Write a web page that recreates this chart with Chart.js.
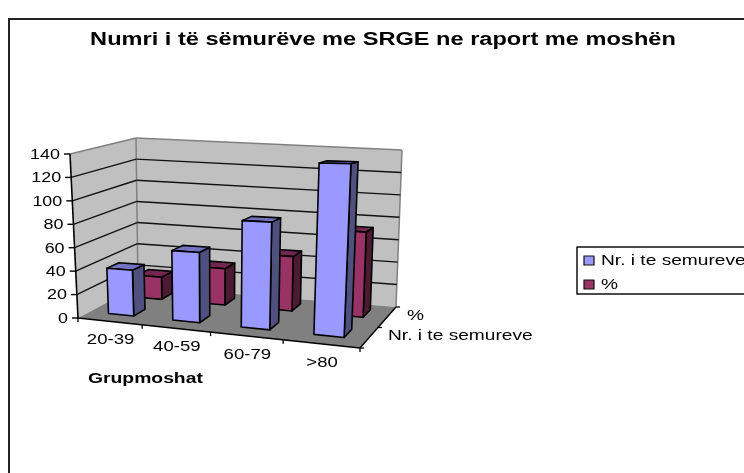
<!DOCTYPE html>
<html><head><meta charset="utf-8">
<style>html,body{margin:0;padding:0;background:#fff;overflow:hidden}canvas{display:block;filter:blur(0.35px)}</style>
<script src="https://cdn.jsdelivr.net/npm/chart.js@4"></script>
</head><body><canvas id="c" width="744" height="473"></canvas>
<script>
const categories = ['20-39','40-59','60-79','>80'];
const seriesNames = ['Nr. i te semureve','%'];
const patientCounts = [39,58,86,134];
const percentValues = [20,32,47,72];
const valueTicks = [0,20,40,60,80,100,120,140];
const chartTitle = 'Numri i të sëmurëve me SRGE ne raport me moshën';
const axisTitle = 'Grupmoshat';

// projection of the (category, value, depth) box on to the page
const box = {
  floorFL:[78,318], floorFR:[360,348], floorBL:[138,286], floorBR:[396,307],
  topFL:[70,154],  topFR:[369,158],  topBL:[136,138],  topBR:[402,150], warp:-0.12
};
const lanes = [[0.2,0.4],[0.7,0.89]];
const colors = [
  {front:'#9999FF',side:'#50507F',top:'#7373BF'},
  {front:'#993366',side:'#4D1A33',top:'#732650'}
];
const STRETCH = 1.28;
const FONT = '"Liberation Sans", Arial, sans-serif';

const lerp=(a,b,t)=>[a[0]+(b[0]-a[0])*t,a[1]+(b[1]-a[1])*t];
function project(u,v,d){
  const w=u+box.warp*u*(1-u);
  const fb=lerp(lerp(box.floorFL,box.floorFR,w),lerp(box.floorBL,box.floorBR,w),d);
  const ft=lerp(lerp(box.topFL,box.topFR,w),lerp(box.topBL,box.topBR,w),d);
  return lerp(fb,ft,v);
}
function poly(ctx,pts,fill,stroke,lw){
  ctx.beginPath();pts.forEach((p,i)=>i?ctx.lineTo(p[0],p[1]):ctx.moveTo(p[0],p[1]));ctx.closePath();
  if(fill){ctx.fillStyle=fill;ctx.fill();}
  if(stroke){ctx.strokeStyle=stroke;ctx.lineWidth=lw||1;ctx.stroke();}
}
function line(ctx,a,b,color,lw){
  ctx.beginPath();ctx.moveTo(a[0],a[1]);ctx.lineTo(b[0],b[1]);ctx.strokeStyle=color;ctx.lineWidth=lw||1;ctx.stroke();
}
function text(ctx,str,x,y,align,font,sx){
  const s=sx||STRETCH;
  ctx.save();ctx.font=font;ctx.fillStyle='#000';ctx.textBaseline='middle';ctx.textAlign=align;
  ctx.translate(x,y);ctx.scale(s,1);ctx.fillText(str,0,0);ctx.restore();
}

const scene={
  id:'scene',
  beforeDatasetsDraw(chart){
    const ctx=chart.ctx,{x:xs,y:ys}=chart.scales,a=chart.chartArea;
    ctx.save();ctx.lineJoin='round';
    // outer frame
    line(ctx,[9,19],[744,19],'#222',2);line(ctx,[9,18],[9,473],'#222',2);
    // walls and floor
    poly(ctx,[project(0,0,0),project(0,1,0),project(0,1,1),project(0,0,1)],'#C0C0C0');
    poly(ctx,[project(0,0,1),project(0,1,1),project(1,1,1),project(1,0,1)],'#C0C0C0');
    poly(ctx,[project(0,0,0),project(1,0,0),project(1,0,1),project(0,0,1)],'#808080');
    line(ctx,project(0,1,0),project(0,1,1),'#808080',1.5);
    line(ctx,project(0,1,1),project(1,1,1),'#808080',1.5);
    line(ctx,project(1,1,1),project(1,0,1),'#808080',1.5);
    line(ctx,project(0,1,1),project(0,0,1),'#808080',1.5);
    // value gridlines and labels from the y scale
    ys.ticks.forEach(t=>{
      const v=(a.bottom-ys.getPixelForValue(t.value))/(a.bottom-a.top);
      if(t.value>0&&t.value<140){
        line(ctx,project(0,v,0),project(0,v,1),'#111',1.4);
        line(ctx,project(0,v,1),project(1,v,1),'#111',1.4);
      }
      const p=project(0,v,0);
      line(ctx,p,[p[0]-6,p[1]],'#000',1.4);
      text(ctx,String(t.value),p[0]-10,p[1]+1,'right','14px '+FONT);
    });
    // axis edges
    line(ctx,project(0,0,0),project(0,1,0),'#000',1.6);
    line(ctx,project(0,0,0),project(1,0,0),'#000',1.4);
    line(ctx,project(1,0,0),project(1,0,1),'#000',1.4);
    // category ticks and labels from the x scale
    const n=categories.length;
    for(let i=0;i<=n;i++){const p=project(i/n,0,0);line(ctx,p,[p[0],p[1]+4],'#000',1.3);}
    categories.forEach((c,i)=>{
      const u=(xs.getPixelForValue(i)-a.left)/(a.right-a.left);
      const p=project(u,0,0);
      text(ctx,c,p[0]+1,p[1]+19,'center','14.5px '+FONT);
    });
    // depth ticks and labels
    [0,0.5,1].forEach(d=>{const p=project(1,0,d);line(ctx,p,[p[0]+4,p[1]],'#000',1.3);});
    text(ctx,seriesNames[1],407,316,'left','14.5px '+FONT,1.32);
    text(ctx,seriesNames[0],388,336,'left','14.5px '+FONT,1.32);
    text(ctx,axisTitle,88,379,'left','bold 14px '+FONT,1.38);
    // title
    text(ctx,chartTitle,383,40,'center','bold 18px '+FONT,1.31);
    // bars, back series first
    for(let s=seriesNames.length-1;s>=0;s--){
      const [d0,d1]=lanes[s],col=colors[s];
      chart.getDatasetMeta(s).data.forEach(bar=>{
        const W=a.right-a.left,H=a.bottom-a.top;
        const u0=(bar.x-bar.width/2-a.left)/W,u1=(bar.x+bar.width/2-a.left)/W;
        const v=(bar.base-bar.y)/H;
        poly(ctx,[project(u1,0,d0),project(u1,v,d0),project(u1,v,d1),project(u1,0,d1)],col.side,'#000',1.6);
        poly(ctx,[project(u0,v,d0),project(u0,v,d1),project(u1,v,d1),project(u1,v,d0)],col.top,'#000',1.6);
        poly(ctx,[project(u0,0,d0),project(u0,v,d0),project(u1,v,d0),project(u1,0,d0)],col.front,'#000',1.6);
      });
    }
    // legend
    ctx.lineWidth=1.5;ctx.strokeStyle='#111';ctx.strokeRect(577,247,180,47);
    seriesNames.forEach((name,i)=>{
      const y=[261,285][i];
      ctx.fillStyle=colors[i].front;ctx.fillRect(584,y-5,10,9);
      ctx.lineWidth=1.2;ctx.strokeRect(584,y-5,10,9);
      text(ctx,name,601,y,'left','14.5px '+FONT,1.32);
    });
    ctx.restore();
  }
};

new Chart(document.getElementById('c'),{
  type:'bar',
  data:{labels:categories,datasets:[
    {label:seriesNames[0],data:patientCounts,backgroundColor:'transparent',borderWidth:0},
    {label:seriesNames[1],data:percentValues,backgroundColor:'transparent',borderWidth:0}
  ]},
  options:{
    responsive:false,animation:false,
    layout:{padding:{left:78,right:384,top:154,bottom:155}},
    datasets:{bar:{grouped:false,barPercentage:0.4,categoryPercentage:1}},
    plugins:{legend:{display:false},tooltip:{enabled:false},title:{display:false}},
    scales:{
      x:{display:false,type:'category'},
      y:{display:false,min:valueTicks[0],max:valueTicks[valueTicks.length-1],ticks:{stepSize:20}}
    }
  },
  plugins:[scene]
});
</script></body></html>
